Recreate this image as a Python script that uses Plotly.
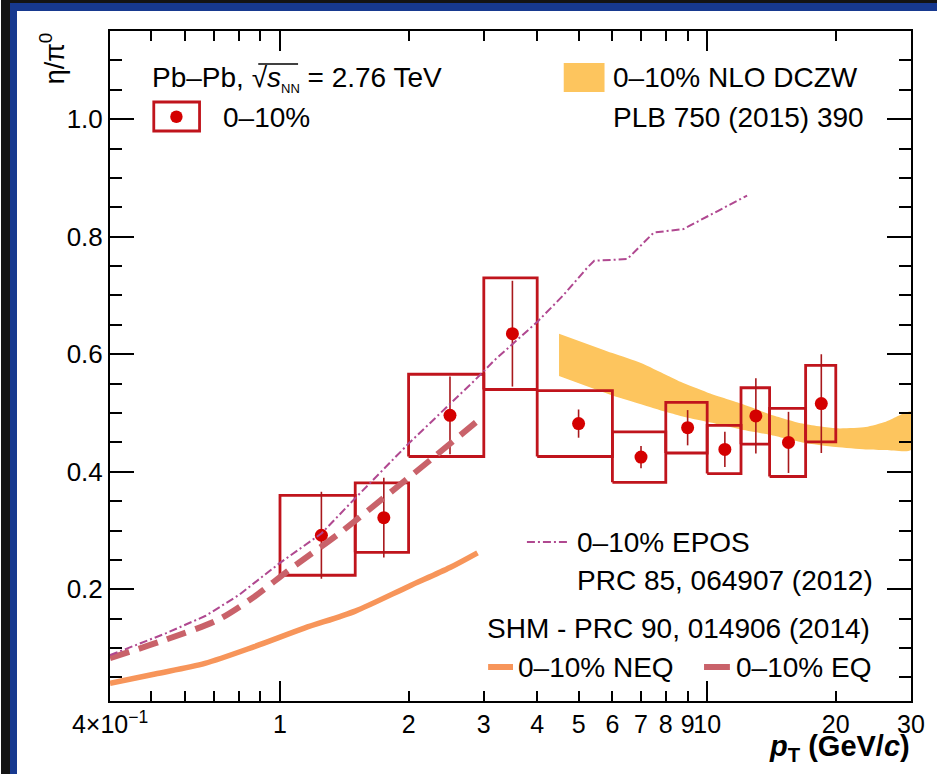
import math
import plotly.graph_objects as go

# ---------------- data ----------------
pt_x = [1.25, 1.75, 2.5, 3.5, 5.0, 7.0, 9.0, 11.0, 13.0, 15.5, 18.5]
bin_lo = [1.0, 1.5, 2.0, 3.0, 4.0, 6.0, 8.0, 10.0, 12.0, 14.0, 17.0]
bin_hi = [1.5, 2.0, 3.0, 4.0, 6.0, 8.0, 10.0, 12.0, 14.0, 17.0, 20.0]
eta_pi0 = [0.292, 0.322, 0.496, 0.635, 0.482, 0.425, 0.475, 0.438, 0.495, 0.450, 0.516]
stat_err = [0.074, 0.068, 0.066, 0.090, 0.024, 0.019, 0.030, 0.030, 0.064, 0.052, 0.084]
sys_err = [0.068, 0.059, 0.070, 0.095, 0.056, 0.043, 0.043, 0.041, 0.048, 0.058, 0.065]

epos_x = [0.4, 0.54, 0.67, 0.8, 1.0, 1.25, 1.5, 2.0, 2.86, 3.18, 4.0, 4.6, 5.25, 5.44, 6.5, 7.5, 8.8, 12.4]
epos_y = [0.088, 0.125, 0.155, 0.19, 0.245, 0.295, 0.355, 0.448, 0.556, 0.59, 0.655, 0.70, 0.748, 0.759, 0.762, 0.807, 0.813, 0.870]

eq_x = [0.4, 0.524, 0.715, 0.871, 1.05, 1.375, 1.8, 2.27, 2.94]
eq_y = [0.083, 0.111, 0.148, 0.1875, 0.233, 0.295, 0.363, 0.4225, 0.49]

neq_x = [0.4, 0.51, 0.667, 0.871, 1.14, 1.5, 2.0, 2.5, 2.9]
neq_y = [0.040, 0.056, 0.074, 0.1025, 0.134, 0.163, 0.205, 0.237, 0.262]

band_x = [4.5, 6.0, 7.0, 8.0, 8.66, 10.0, 12.0, 14.0, 16.7, 20.0, 23.5, 26.2, 30.0]
band_hi = [0.635, 0.602, 0.585, 0.565, 0.553, 0.535, 0.516, 0.498, 0.482, 0.474, 0.476, 0.485, 0.502]
band_lo = [0.563, 0.530, 0.515, 0.502, 0.495, 0.485, 0.472, 0.463, 0.450, 0.442, 0.438, 0.437, 0.437]

x_tickvals = [0.4, 1, 2, 3, 4, 5, 6, 7, 8, 9, 10, 20, 30]
x_ticktext = ["4\u00d710<sup>\u22121</sup>", "1", "2", "3", "4", "5", "6", "7", "8", "9", "10", "20", "30"]
x_minor_vals = [0.5, 0.6, 0.7, 0.8, 0.9]
x_long_vals = [1, 10]
y_tickvals = [0.2, 0.4, 0.6, 0.8, 1.0]
y_ticktext = ["0.2", "0.4", "0.6", "0.8", "1.0"]

# ---------------- styles ----------------
FONT = "Liberation Sans, Arial, sans-serif"
BOX_C = "#c0141c"
MARK_C = "#d40000"
STAT_C = "#a8181c"
EPOS_C = "#b04890"
EQ_C = "#c9626a"
NEQ_C = "#f7955a"
BAND_C = "#fdc55e"
BLUE = "#17398f"
DARK = "#141414"

W, H = 937, 774
L, R, T, B = 110, 22, 31, 73


def X(px):
    return (px - L) / (W - L - R)


def Y(py):
    return (H - B - py) / (H - T - B)


fig = go.Figure()

# NLO band
fig.add_trace(go.Scatter(
    x=band_x + band_x[::-1], y=band_hi + band_lo[::-1],
    fill="toself", fillcolor=BAND_C, line=dict(width=0, shape="spline", smoothing=0.6),
    mode="lines", hoverinfo="skip", showlegend=False))

# systematic boxes
bx, by = [], []
for lo, hi, v, s in zip(bin_lo, bin_hi, eta_pi0, sys_err):
    bx += [lo, hi, hi, lo, lo, None]
    by += [v - s, v - s, v + s, v + s, v - s, None]
fig.add_trace(go.Scatter(x=bx, y=by, mode="lines",
                         line=dict(color=BOX_C, width=2.8),
                         hoverinfo="skip", showlegend=False))

# data points with stat errors
fig.add_trace(go.Scatter(
    x=pt_x, y=eta_pi0, mode="markers",
    marker=dict(color=MARK_C, size=13),
    error_y=dict(type="data", array=stat_err, color=STAT_C, thickness=1.6, width=0),
    hoverinfo="skip", showlegend=False))

# model curves
fig.add_trace(go.Scatter(x=neq_x, y=neq_y, mode="lines",
                         line=dict(color=NEQ_C, width=5.5, shape="spline", smoothing=0.8),
                         hoverinfo="skip", showlegend=False))
fig.add_trace(go.Scatter(x=eq_x, y=eq_y, mode="lines",
                         line=dict(color=EQ_C, width=6, dash="20px,10px", shape="spline", smoothing=0.8),
                         hoverinfo="skip", showlegend=False))
fig.add_trace(go.Scatter(x=epos_x, y=epos_y, mode="lines",
                         line=dict(color=EPOS_C, width=2, dash="8px,3px,2px,3px"),
                         hoverinfo="skip", showlegend=False))

# invisible trace to anchor the long-tick overlay axis
fig.add_trace(go.Scatter(x=pt_x, y=eta_pi0, xaxis="x2", mode="markers",
                         marker=dict(opacity=0), hoverinfo="skip", showlegend=False))

xr = [math.log10(0.4), math.log10(30)]

fig.update_layout(
    width=W, height=H,
    margin=dict(l=L, r=R, t=T, b=B),
    paper_bgcolor="white", plot_bgcolor="white",
    font=dict(family=FONT, color="black"),
    showlegend=False,
    xaxis=dict(
        type="log", range=xr, tickmode="array", tickvals=x_tickvals, ticktext=x_ticktext,
        ticks="inside", ticklen=10, tickwidth=1.5, tickcolor="black",
        showline=True, linewidth=2, linecolor="black", mirror="ticks",
        showgrid=False, zeroline=False, tickangle=0,
        tickfont=dict(size=25, family=FONT, color="black"),
        minor=dict(tickmode="array", tickvals=x_minor_vals, ticks="inside",
                   ticklen=10, tickwidth=1.5, tickcolor="black", showgrid=False),
    ),
    xaxis2=dict(
        type="log", range=xr, overlaying="x", anchor="y", side="bottom",
        tickmode="array", tickvals=x_long_vals, ticks="inside", ticklen=20,
        tickwidth=1.5, tickcolor="black", showticklabels=False,
        showline=False, mirror="ticks", showgrid=False, zeroline=False,
    ),
    yaxis=dict(
        range=[0.01, 1.15], tickmode="array", tickvals=y_tickvals, ticktext=y_ticktext,
        ticks="inside", ticklen=24, tickwidth=1.5, tickcolor="black",
        showline=True, linewidth=2, linecolor="black", mirror="ticks",
        showgrid=False, zeroline=False,
        tickfont=dict(size=26, family=FONT, color="black"),
        minor=dict(tickmode="linear", tick0=0, dtick=0.05, ticks="inside",
                   ticklen=12, tickwidth=1.5, tickcolor="black", showgrid=False),
    ),
)

ann = []


def text(s, px, py, anchor="left", size=28, **kw):
    ann.append(dict(text=s, x=X(px), y=Y(py), xref="paper", yref="paper",
                    xanchor=anchor, yanchor="middle", showarrow=False,
                    font=dict(size=size, family=FONT, color="black"), **kw))


def frame_block(px, py, w, h, color):
    ann.append(dict(text=" ", x=X(px), y=Y(py), xref="paper", yref="paper",
                    xanchor="left", yanchor="top", showarrow=False,
                    width=w, height=h, bgcolor=color, borderpad=0, borderwidth=0,
                    font=dict(size=1, color=color)))


# slide frame (left and top edges)
frame_block(0, 0, 10, H, DARK)
frame_block(10, 3, 7, H - 3, BLUE)
frame_block(0, 0, W, 3, DARK)
frame_block(10, 3, W - 10, 8, BLUE)

text("Pb\u2013Pb, \u221a<i>s</i><sub><span style='font-size:13px'>NN</span></sub> = 2.76 TeV", 150, 79)
text("0\u201310%", 222, 117)
text("0\u201310% NLO DCZW", 613, 77)
text("PLB 750 (2015) 390", 613, 117)
text("0\u201310% EPOS", 577, 542)
text("PRC 85, 064907 (2012)", 577, 580)
text("SHM - PRC 90, 014906 (2014)", 487, 628)
text("0\u201310% NEQ", 518, 667)
text("0\u201310% EQ", 737, 667)
# axis titles
ann.append(dict(text="\u03b7/\u03c0<sup>0</sup>", x=X(52), y=Y(30), xref="paper", yref="paper",
                xanchor="center", yanchor="top", textangle=-90, showarrow=False,
                font=dict(size=27, family=FONT, color="black")))
ann.append(dict(text="<b><i>p</i><sub>T</sub> (GeV/<i>c</i>)</b>", x=X(916), y=Y(748),
                xref="paper", yref="paper", xanchor="right", yanchor="middle",
                showarrow=False, font=dict(size=29, family=FONT, color="black")))

shapes = []
# overline of sqrt(s_NN)
shapes.append(dict(type="line", xref="paper", yref="paper", x0=X(259), x1=X(299), y0=Y(64), y1=Y(64),
                   line=dict(color="black", width=1.5)))
# legend symbols
shapes.append(dict(type="rect", xref="paper", yref="paper", x0=X(154), x1=X(200), y0=Y(131), y1=Y(102),
                   line=dict(color=BOX_C, width=2.8)))
shapes.append(dict(type="circle", xref="paper", yref="paper", x0=X(170.5), x1=X(183), y0=Y(123), y1=Y(110.5),
                   fillcolor=MARK_C, line=dict(width=0)))
shapes.append(dict(type="rect", xref="paper", yref="paper", x0=X(566), x1=X(607), y0=Y(92), y1=Y(63),
                   fillcolor=BAND_C, line=dict(width=0)))
shapes.append(dict(type="line", xref="paper", yref="paper", x0=X(529), x1=X(570), y0=Y(542), y1=Y(542),
                   line=dict(color=EPOS_C, width=2, dash="8px,3px,2px,3px")))
shapes.append(dict(type="line", xref="paper", yref="paper", x0=X(490), x1=X(515), y0=Y(667), y1=Y(667),
                   line=dict(color=NEQ_C, width=6)))
shapes.append(dict(type="line", xref="paper", yref="paper", x0=X(707), x1=X(733), y0=Y(667), y1=Y(667),
                   line=dict(color=EQ_C, width=6)))

fig.update_layout(annotations=ann, shapes=shapes)

fig.write_html("out.html", config={"displayModeBar": False})
